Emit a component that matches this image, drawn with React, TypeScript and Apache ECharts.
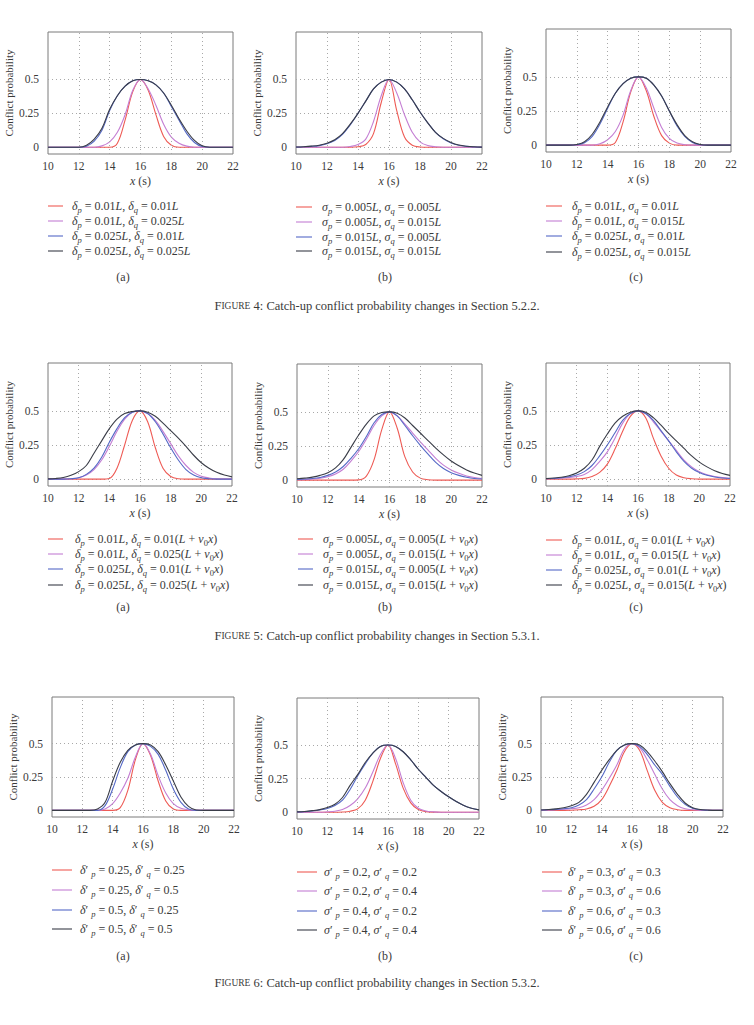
import React, { useEffect, useRef } from "react";
import * as echarts from "echarts";

// ---------- data ----------
const xValues = [10, 10.5, 11, 11.5, 12, 12.5, 13, 13.5, 14, 14.5, 15, 15.5, 16, 16.5, 17, 17.5, 18, 18.5, 19, 19.5, 20, 20.5, 21, 21.5, 22];
const xTicks = [10, 12, 14, 16, 18, 20, 22];
const yTicks = [0, 0.25, 0.5];

// Figure 4
const fig4aRed = [0, 0, 0, 0, 0, 0, 0, 0, 0, 0.03, 0.2, 0.41, 0.5, 0.42, 0.24, 0.08, 0.015, 0, 0, 0, 0, 0, 0, 0, 0];
const fig4aPurple = [0, 0, 0, 0, 0, 0, 0, 0.01, 0.04, 0.11, 0.24, 0.42, 0.5, 0.43, 0.31, 0.17, 0.075, 0.03, 0.008, 0, 0, 0, 0, 0, 0];
const fig4aBlue = [0, 0, 0, 0, 0, 0.008, 0.045, 0.125, 0.27, 0.38, 0.45, 0.49, 0.5, 0.49, 0.46, 0.4, 0.3, 0.2, 0.1, 0.035, 0.005, 0, 0, 0, 0];
const fig4aBlack = [0, 0, 0, 0, 0, 0.015, 0.06, 0.14, 0.28, 0.38, 0.45, 0.49, 0.5, 0.49, 0.46, 0.4, 0.31, 0.21, 0.12, 0.05, 0.01, 0, 0, 0, 0];

const fig4bRed = [0, 0, 0, 0, 0, 0, 0, 0, 0.003, 0.02, 0.1, 0.33, 0.5, 0.27, 0.075, 0.015, 0.002, 0, 0, 0, 0, 0, 0, 0, 0];
const fig4bPurple = [0, 0, 0, 0, 0, 0, 0, 0.005, 0.02, 0.06, 0.19, 0.38, 0.5, 0.4, 0.24, 0.11, 0.04, 0.012, 0.003, 0, 0, 0, 0, 0, 0];
const fig4bBlue = [0.001, 0.003, 0.006, 0.012, 0.026, 0.05, 0.095, 0.165, 0.25, 0.34, 0.43, 0.48, 0.5, 0.48, 0.43, 0.35, 0.26, 0.18, 0.11, 0.062, 0.032, 0.014, 0.006, 0.002, 0.001];
const fig4bBlack = [0.002, 0.004, 0.008, 0.015, 0.03, 0.055, 0.1, 0.17, 0.25, 0.34, 0.43, 0.48, 0.5, 0.48, 0.43, 0.35, 0.26, 0.18, 0.11, 0.065, 0.035, 0.016, 0.007, 0.003, 0.001];

const fig4cRed = [0, 0, 0, 0, 0, 0, 0, 0, 0, 0.02, 0.17, 0.39, 0.5, 0.4, 0.21, 0.07, 0.015, 0, 0, 0, 0, 0, 0, 0, 0];
const fig4cPurple = [0, 0, 0, 0, 0, 0, 0, 0.01, 0.04, 0.1, 0.22, 0.4, 0.5, 0.42, 0.27, 0.13, 0.05, 0.015, 0.003, 0, 0, 0, 0, 0, 0];
const fig4cBlue = [0, 0, 0, 0, 0.003, 0.018, 0.065, 0.155, 0.27, 0.38, 0.45, 0.49, 0.5, 0.49, 0.44, 0.36, 0.25, 0.14, 0.065, 0.02, 0.003, 0, 0, 0, 0];
const fig4cBlack = [0, 0, 0, 0, 0.005, 0.025, 0.08, 0.17, 0.28, 0.38, 0.45, 0.49, 0.5, 0.49, 0.44, 0.36, 0.25, 0.15, 0.07, 0.025, 0.005, 0, 0, 0, 0];

// Figure 5
const fig5aRed = [0, 0, 0, 0, 0, 0, 0, 0, 0.005, 0.08, 0.25, 0.43, 0.5, 0.42, 0.23, 0.08, 0.02, 0.003, 0, 0, 0, 0, 0, 0, 0];
const fig5aPurple = [0, 0, 0, 0.003, 0.01, 0.03, 0.07, 0.14, 0.24, 0.35, 0.44, 0.49, 0.5, 0.48, 0.43, 0.35, 0.26, 0.17, 0.1, 0.05, 0.022, 0.009, 0.003, 0.001, 0];
const fig5aBlue = [0, 0, 0, 0.003, 0.01, 0.035, 0.08, 0.16, 0.27, 0.37, 0.45, 0.49, 0.5, 0.48, 0.42, 0.33, 0.23, 0.14, 0.07, 0.03, 0.01, 0.003, 0, 0, 0];
const fig5aBlack = [0.002, 0.005, 0.012, 0.028, 0.055, 0.1, 0.19, 0.28, 0.37, 0.44, 0.48, 0.495, 0.5, 0.49, 0.46, 0.41, 0.355, 0.3, 0.24, 0.175, 0.12, 0.08, 0.05, 0.03, 0.017];

const fig5bRed = [0, 0, 0, 0, 0, 0, 0, 0, 0.002, 0.03, 0.15, 0.37, 0.5, 0.38, 0.17, 0.06, 0.015, 0.003, 0, 0, 0, 0, 0, 0, 0];
const fig5bPurple = [0.003, 0.005, 0.008, 0.014, 0.025, 0.045, 0.08, 0.14, 0.21, 0.3, 0.4, 0.47, 0.5, 0.47, 0.41, 0.345, 0.28, 0.22, 0.16, 0.11, 0.075, 0.05, 0.031, 0.02, 0.012];
const fig5bBlue = [0.005, 0.008, 0.012, 0.02, 0.035, 0.06, 0.1, 0.16, 0.23, 0.32, 0.42, 0.48, 0.5, 0.47, 0.4, 0.325, 0.255, 0.19, 0.13, 0.085, 0.055, 0.035, 0.021, 0.012, 0.008];
const fig5bBlack = [0.01, 0.015, 0.022, 0.035, 0.055, 0.09, 0.15, 0.24, 0.33, 0.41, 0.47, 0.495, 0.5, 0.49, 0.455, 0.4, 0.345, 0.29, 0.235, 0.185, 0.14, 0.105, 0.075, 0.052, 0.035];

const fig5cRed = [0, 0, 0, 0, 0.002, 0.006, 0.02, 0.05, 0.11, 0.22, 0.35, 0.46, 0.5, 0.45, 0.3, 0.17, 0.08, 0.03, 0.01, 0.003, 0, 0, 0, 0, 0];
const fig5cPurple = [0.002, 0.004, 0.007, 0.012, 0.02, 0.035, 0.07, 0.13, 0.2, 0.3, 0.41, 0.48, 0.5, 0.48, 0.42, 0.35, 0.28, 0.21, 0.14, 0.09, 0.055, 0.033, 0.02, 0.012, 0.007];
const fig5cBlue = [0.003, 0.006, 0.01, 0.018, 0.03, 0.055, 0.1, 0.17, 0.25, 0.34, 0.43, 0.48, 0.5, 0.48, 0.43, 0.355, 0.28, 0.2, 0.13, 0.08, 0.048, 0.028, 0.016, 0.009, 0.005];
const fig5cBlack = [0.004, 0.008, 0.014, 0.025, 0.045, 0.08, 0.14, 0.24, 0.33, 0.41, 0.46, 0.49, 0.5, 0.49, 0.45, 0.395, 0.335, 0.28, 0.225, 0.17, 0.125, 0.09, 0.062, 0.042, 0.028];

// Figure 6
const fig6aRed = [0, 0, 0, 0, 0, 0, 0, 0, 0, 0.02, 0.15, 0.38, 0.5, 0.41, 0.22, 0.07, 0.01, 0, 0, 0, 0, 0, 0, 0, 0];
const fig6aPurple = [0, 0, 0, 0, 0, 0, 0, 0.01, 0.05, 0.13, 0.24, 0.4, 0.5, 0.42, 0.26, 0.13, 0.05, 0.015, 0.003, 0, 0, 0, 0, 0, 0];
const fig6aBlue = [0, 0, 0, 0, 0, 0, 0, 0.035, 0.16, 0.32, 0.44, 0.49, 0.5, 0.48, 0.42, 0.3, 0.16, 0.06, 0.01, 0, 0, 0, 0, 0, 0];
const fig6aBlack = [0, 0, 0, 0, 0, 0, 0.01, 0.06, 0.22, 0.36, 0.45, 0.49, 0.5, 0.49, 0.44, 0.34, 0.22, 0.1, 0.03, 0.003, 0, 0, 0, 0, 0];

const fig6bRed = [0, 0, 0, 0, 0, 0, 0.002, 0.008, 0.025, 0.09, 0.23, 0.4, 0.5, 0.36, 0.18, 0.07, 0.02, 0.005, 0.001, 0, 0, 0, 0, 0, 0];
const fig6bPurple = [0, 0, 0, 0, 0.003, 0.008, 0.02, 0.05, 0.1, 0.18, 0.3, 0.43, 0.5, 0.4, 0.22, 0.09, 0.03, 0.01, 0.003, 0, 0, 0, 0, 0, 0];
const fig6bBlue = [0.003, 0.005, 0.01, 0.017, 0.028, 0.05, 0.09, 0.17, 0.27, 0.36, 0.44, 0.49, 0.5, 0.49, 0.45, 0.39, 0.32, 0.26, 0.2, 0.155, 0.115, 0.08, 0.05, 0.03, 0.018];
const fig6bBlack = [0.003, 0.006, 0.012, 0.02, 0.035, 0.06, 0.11, 0.2, 0.28, 0.37, 0.44, 0.49, 0.5, 0.49, 0.45, 0.39, 0.32, 0.26, 0.2, 0.155, 0.115, 0.08, 0.05, 0.03, 0.018];

const fig6cRed = [0, 0, 0, 0, 0.001, 0.004, 0.01, 0.03, 0.08, 0.18, 0.3, 0.44, 0.5, 0.45, 0.3, 0.15, 0.06, 0.02, 0.005, 0, 0, 0, 0, 0, 0];
const fig6cPurple = [0, 0.002, 0.005, 0.008, 0.012, 0.02, 0.04, 0.08, 0.15, 0.24, 0.34, 0.46, 0.5, 0.47, 0.38, 0.27, 0.16, 0.08, 0.035, 0.012, 0.004, 0.001, 0, 0, 0];
const fig6cBlue = [0.002, 0.004, 0.007, 0.012, 0.02, 0.04, 0.08, 0.16, 0.25, 0.36, 0.45, 0.49, 0.5, 0.48, 0.42, 0.34, 0.27, 0.18, 0.1, 0.045, 0.015, 0.004, 0.001, 0, 0];
const fig6cBlack = [0.003, 0.006, 0.011, 0.02, 0.035, 0.06, 0.12, 0.21, 0.3, 0.38, 0.45, 0.49, 0.5, 0.49, 0.44, 0.37, 0.29, 0.2, 0.12, 0.055, 0.02, 0.006, 0.002, 0, 0];

// Legend labels ("_" marks a subscript character)
const fig4aLabels = ["δ_p = 0.01L, δ_q = 0.01L", "δ_p = 0.01L, δ_q = 0.025L", "δ_p = 0.025L, δ_q = 0.01L", "δ_p = 0.025L, δ_q = 0.025L"];
const fig4bLabels = ["σ_p = 0.005L, σ_q = 0.005L", "σ_p = 0.005L, σ_q = 0.015L", "σ_p = 0.015L, σ_q = 0.005L", "σ_p = 0.015L, σ_q = 0.015L"];
const fig4cLabels = ["δ_p = 0.01L, σ_q = 0.01L", "δ_p = 0.01L, σ_q = 0.015L", "δ_p = 0.025L, σ_q = 0.01L", "δ_p = 0.025L, σ_q = 0.015L"];
const fig5aLabels = ["δ_p = 0.01L, δ_q = 0.01(L + v_0x)", "δ_p = 0.01L, δ_q = 0.025(L + v_0x)", "δ_p = 0.025L, δ_q = 0.01(L + v_0x)", "δ_p = 0.025L, δ_q = 0.025(L + v_0x)"];
const fig5bLabels = ["σ_p = 0.005L, σ_q = 0.005(L + v_0x)", "σ_p = 0.005L, σ_q = 0.015(L + v_0x)", "σ_p = 0.015L, σ_q = 0.005(L + v_0x)", "σ_p = 0.015L, σ_q = 0.015(L + v_0x)"];
const fig5cLabels = ["δ_p = 0.01L, σ_q = 0.01(L + v_0x)", "δ_p = 0.01L, σ_q = 0.015(L + v_0x)", "δ_p = 0.025L, σ_q = 0.01(L + v_0x)", "δ_p = 0.025L, σ_q = 0.015(L + v_0x)"];
const fig6aLabels = ["δ′ _p = 0.25, δ′ _q = 0.25", "δ′ _p = 0.25, δ′ _q = 0.5", "δ′ _p = 0.5, δ′ _q = 0.25", "δ′ _p = 0.5, δ′ _q = 0.5"];
const fig6bLabels = ["σ′ _p = 0.2, σ′ _q = 0.2", "σ′ _p = 0.2, σ′ _q = 0.4", "σ′ _p = 0.4, σ′ _q = 0.2", "σ′ _p = 0.4, σ′ _q = 0.4"];
const fig6cLabels = ["δ′ _p = 0.3, σ′ _q = 0.3", "δ′ _p = 0.3, σ′ _q = 0.6", "δ′ _p = 0.6, σ′ _q = 0.3", "δ′ _p = 0.6, σ′ _q = 0.6"];

const subTags = ["(a)", "(b)", "(c)"];
const captions = [
  "4: Catch-up conflict probability changes in Section 5.2.2.",
  "5: Catch-up conflict probability changes in Section 5.3.1.",
  "6: Catch-up conflict probability changes in Section 5.3.2.",
];

// ---------- style / layout ----------
const SERIF = "Liberation Serif";
const TEXT = "#3a3a3a";
const GRIDC = "#a8a8a8";
const COLORS = ["#ee5b55", "#c47ed3", "#5569c6", "#3a3d48"];

type Panel = {
  series: number[][];
  labels: string[];
  grid: [number, number, number, number];
  line: [number, number];
  tx: number;
  rows: number[];
  tag: number;
  tagX: number;
  tagY: number;
};

const panels: Panel[] = [
  { series: [fig4aRed, fig4aPurple, fig4aBlue, fig4aBlack], labels: fig4aLabels, grid: [48, 32, 185, 122], line: [48, 63], tx: 72, rows: [206, 221, 236, 251], tag: 0, tagX: 123, tagY: 277 },
  { series: [fig4bRed, fig4bPurple, fig4bBlue, fig4bBlack], labels: fig4bLabels, grid: [296, 32, 186, 122], line: [296, 312], tx: 322, rows: [207, 222, 237, 251], tag: 1, tagX: 385, tagY: 277 },
  { series: [fig4cRed, fig4cPurple, fig4cBlue, fig4cBlack], labels: fig4cLabels, grid: [546, 29, 185, 123], line: [546, 562], tx: 572, rows: [206, 221, 236, 252], tag: 2, tagX: 636, tagY: 277 },
  { series: [fig5aRed, fig5aPurple, fig5aBlue, fig5aBlack], labels: fig5aLabels, grid: [48, 363, 184, 123], line: [48, 63], tx: 75, rows: [539, 554, 569, 585], tag: 0, tagX: 123, tagY: 607 },
  { series: [fig5bRed, fig5bPurple, fig5bBlue, fig5bBlack], labels: fig5bLabels, grid: [297, 364, 185, 123], line: [298, 313], tx: 323, rows: [539, 554, 569, 585], tag: 1, tagX: 385, tagY: 607 },
  { series: [fig5cRed, fig5cPurple, fig5cBlue, fig5cBlack], labels: fig5cLabels, grid: [546, 363, 184, 123], line: [546, 562], tx: 572, rows: [540, 555, 570, 585], tag: 2, tagX: 636, tagY: 607 },
  { series: [fig6aRed, fig6aPurple, fig6aBlue, fig6aBlack], labels: fig6aLabels, grid: [52, 697, 182, 120], line: [52, 72], tx: 80, rows: [870, 890, 910, 929], tag: 0, tagX: 123, tagY: 956 },
  { series: [fig6bRed, fig6bPurple, fig6bBlue, fig6bBlack], labels: fig6bLabels, grid: [297, 698, 182, 121], line: [297, 317], tx: 324, rows: [872, 891, 911, 930], tag: 1, tagX: 385, tagY: 956 },
  { series: [fig6cRed, fig6cPurple, fig6cBlue, fig6cBlack], labels: fig6cLabels, grid: [541, 697, 182, 120], line: [542, 562], tx: 568, rows: [872, 891, 911, 930], tag: 2, tagX: 636, tagY: 956 },
];
const captionYs = [306, 636, 983];

function toRich(s: string): string {
  const out: string[] = [];
  let cur = "";
  let curStyle = "";
  const push = (st: string, ch: string) => {
    if (st !== curStyle && cur) {
      out.push(`{${curStyle}|${cur}}`);
      cur = "";
    }
    curStyle = st;
    cur += ch;
  };
  for (let i = 0; i < s.length; i++) {
    const ch = s[i];
    if (ch === "_") {
      const n = s[++i];
      push(/[0-9]/.test(n) ? "sn" : "si", n);
      continue;
    }
    if (/[A-Za-zα-ω]/.test(ch)) push("i", ch);
    else push("r", ch);
  }
  if (cur) out.push(`{${curStyle}|${cur}}`);
  return out.join("");
}

const LFS = 12;
const legendRich = {
  r: { fontFamily: SERIF, fontSize: LFS, fill: TEXT, lineHeight: 16, verticalAlign: "middle" },
  i: { fontFamily: SERIF, fontSize: LFS, fontStyle: "italic", fill: TEXT, lineHeight: 16, verticalAlign: "middle" },
  si: { fontFamily: SERIF, fontSize: 8.5, fontStyle: "italic", fill: TEXT, lineHeight: 10, verticalAlign: "bottom" },
  sn: { fontFamily: SERIF, fontSize: 8.5, fill: TEXT, lineHeight: 10, verticalAlign: "bottom" },
};

export default function App() {
  const ref = useRef<HTMLDivElement>(null);

  useEffect(() => {
    document.body.style.margin = "0";
    if (!ref.current) return;
    const chart = echarts.init(ref.current, undefined, { renderer: "svg" });

    const grids: any[] = [];
    const xAxes: any[] = [];
    const yAxes: any[] = [];
    const series: any[] = [];
    const graphics: any[] = [];

    panels.forEach((p, k) => {
      const [left, top, width, height] = p.grid;
      grids.push({ left, top, width, height, show: true, borderColor: "#7a7a7a", borderWidth: 1, containLabel: false });
      xAxes.push({
        type: "value",
        gridIndex: k,
        min: xTicks[0],
        max: xTicks[xTicks.length - 1],
        interval: 2,
        axisLine: { show: false },
        axisTick: { show: false, customValues: xTicks },
        axisLabel: { customValues: xTicks, color: TEXT, fontFamily: SERIF, fontSize: 11.5, margin: 6 },
        splitLine: { show: false },
        name: "{i|x} (s)",
        nameLocation: "middle",
        nameGap: 21,
        nameTextStyle: {
          color: TEXT,
          fontFamily: SERIF,
          fontSize: 12,
          rich: { i: { fontStyle: "italic", fontFamily: SERIF, fontSize: 12, color: TEXT } },
        },
      });
      yAxes.push({
        type: "value",
        gridIndex: k,
        min: -0.05,
        max: 0.85,
        axisLine: { show: false },
        axisTick: { show: false, customValues: yTicks },
        axisLabel: { customValues: yTicks, color: TEXT, fontFamily: SERIF, fontSize: 11.5, margin: 9, formatter: (v: number) => String(v) },
        splitLine: { show: true, lineStyle: { color: GRIDC, type: [1, 3], width: 1 } },
        name: "Conflict probability",
        nameLocation: "middle",
        nameGap: 31,
        nameTextStyle: { color: TEXT, fontFamily: SERIF, fontSize: 11 },
      });
      p.series.forEach((vals, j) => {
        const s: any = {
          type: "line",
          xAxisIndex: k,
          yAxisIndex: k,
          showSymbol: false,
          smooth: 0.35,
          data: xValues.map((x, i) => [x, vals[i]]),
          lineStyle: { color: COLORS[j], width: 1.1 },
          itemStyle: { color: COLORS[j] },
          z: 3 + j,
        };
        if (j === 0) {
          s.markLine = {
            silent: true,
            symbol: "none",
            animation: false,
            label: { show: false },
            lineStyle: { color: GRIDC, type: [1, 3], width: 1 },
            emphasis: { disabled: true },
            data: xTicks.slice(1, -1).map((v) => ({ xAxis: v })),
          };
        }
        series.push(s);
      });
      p.labels.forEach((lab, j) => {
        const y = p.rows[j];
        graphics.push({
          type: "line",
          shape: { x1: p.line[0], y1: y, x2: p.line[1], y2: y },
          style: { stroke: COLORS[j], lineWidth: 1.1 },
        });
        graphics.push({
          type: "text",
          x: p.tx,
          y: y,
          style: { text: toRich(lab), rich: legendRich, verticalAlign: "middle", align: "left", fill: TEXT },
        });
      });
      graphics.push({
        type: "text",
        x: p.tagX,
        y: p.tagY,
        style: { text: subTags[p.tag], fontFamily: SERIF, fontSize: 12, fill: TEXT, align: "center", verticalAlign: "middle" },
      });
    });

    captions.forEach((c, k) => {
      graphics.push({
        type: "text",
        x: 377,
        y: captionYs[k],
        style: {
          text: `{a|F}{b|IGURE}{a| ${c}}`,
          align: "center",
          verticalAlign: "middle",
          rich: {
            a: { fontFamily: SERIF, fontSize: 12.5, fill: TEXT, lineHeight: 16, verticalAlign: "middle" },
            b: { fontFamily: SERIF, fontSize: 9.5, fill: TEXT, lineHeight: 16, verticalAlign: "middle" },
          },
        },
      });
    });

    chart.setOption({
      animation: false,
      backgroundColor: "#ffffff",
      textStyle: { fontFamily: SERIF },
      grid: grids,
      xAxis: xAxes,
      yAxis: yAxes,
      series,
      graphic: graphics,
    });

    return () => chart.dispose();
  }, []);

  return <div ref={ref} style={{ width: 754, height: 1025 }} />;
}
